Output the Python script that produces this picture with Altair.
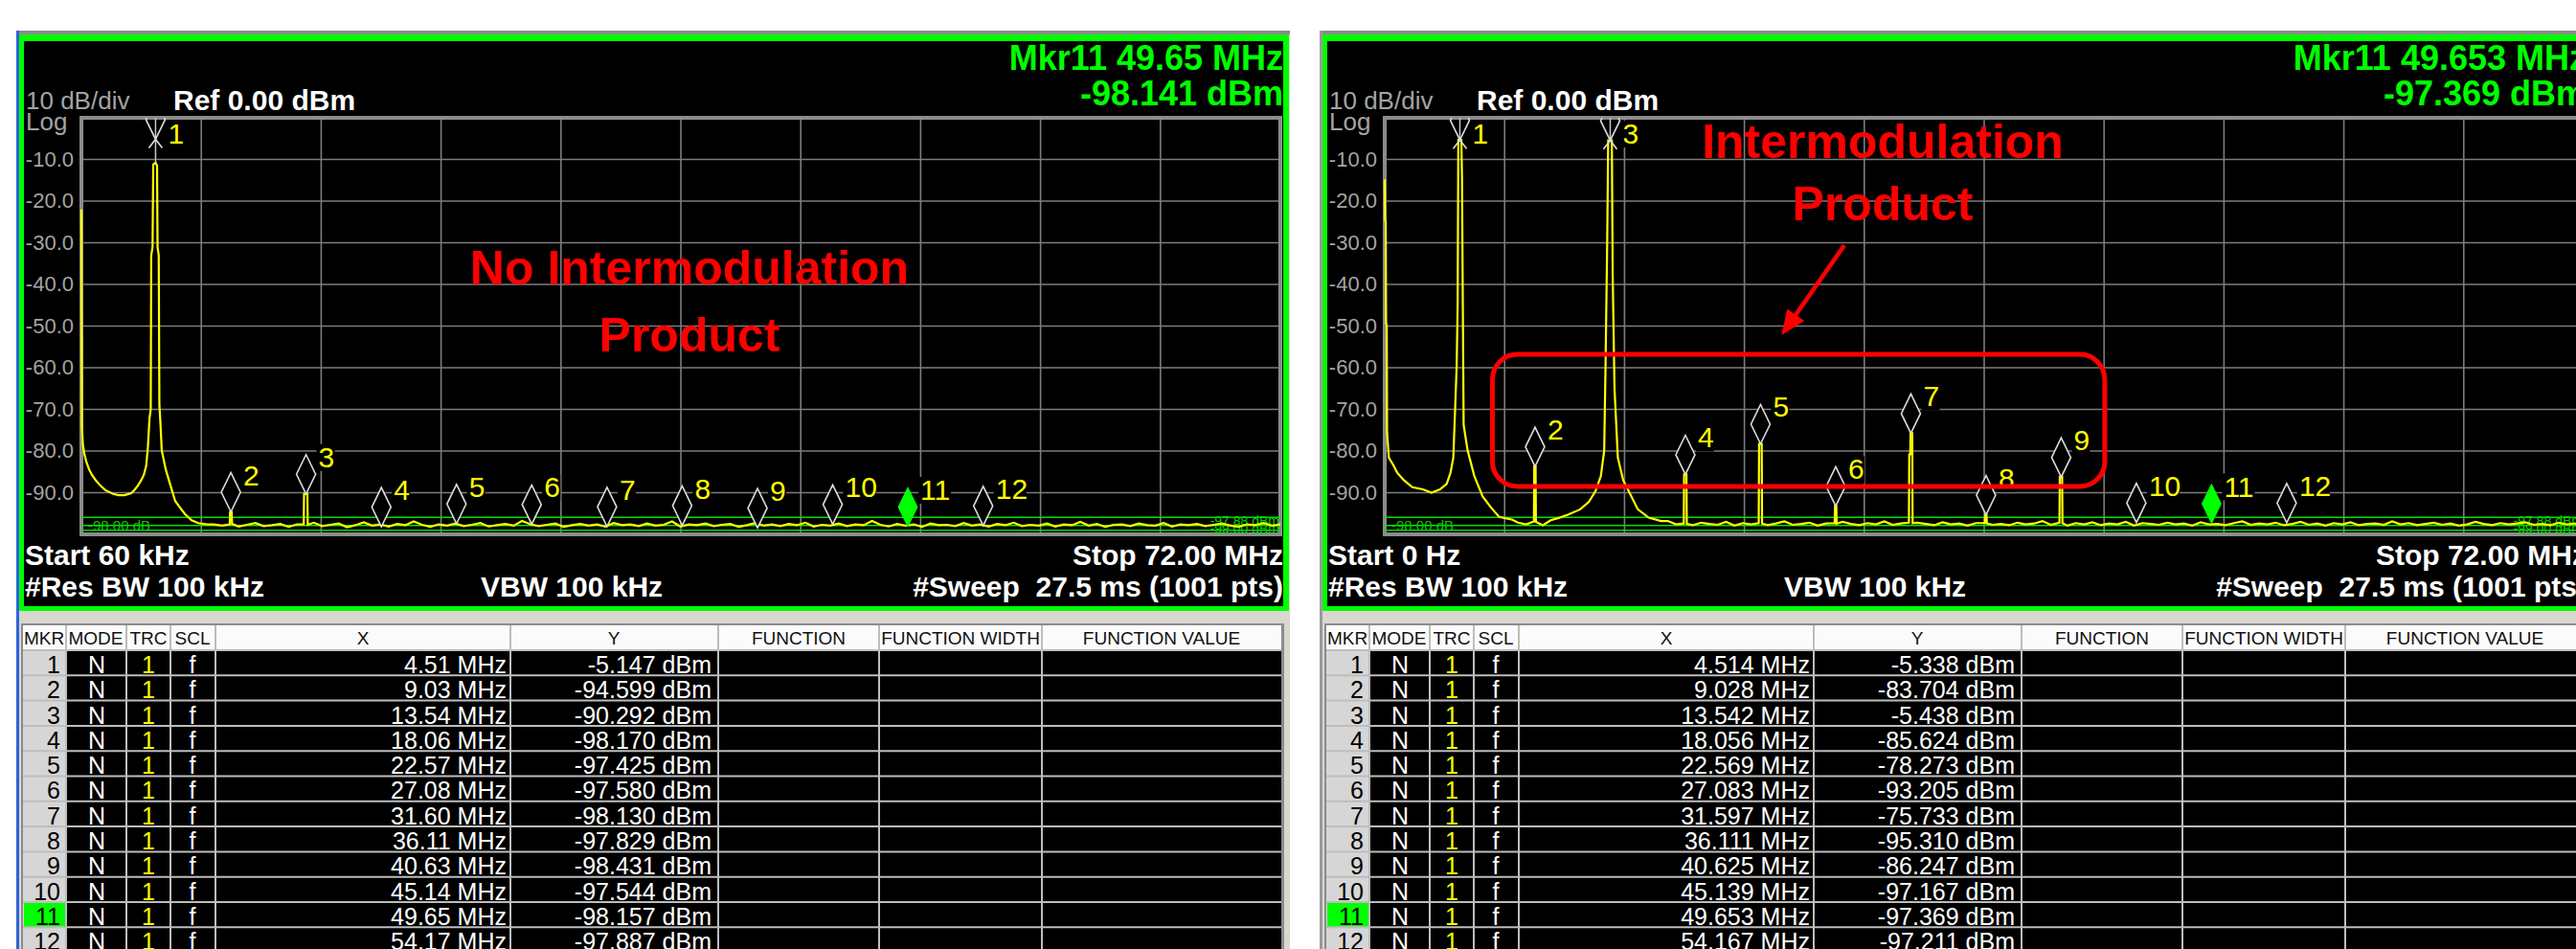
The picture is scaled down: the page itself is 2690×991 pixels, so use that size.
import altair as alt
import pandas as pd

# ---------------------------------------------------------------------------
# Marker table readings (frequency in MHz, level in dBm)
# ---------------------------------------------------------------------------
left_marker_mhz = [4.51, 9.03, 13.54, 18.06, 22.57, 27.08, 31.60, 36.11, 40.63, 45.14, 49.65, 54.17]
left_marker_dbm = [-5.147, -94.599, -90.292, -98.170, -97.425, -97.580, -98.130, -97.829,
                   -98.431, -97.544, -98.157, -97.887]
right_marker_mhz = [4.514, 9.028, 13.542, 18.056, 22.569, 27.083, 31.597, 36.111, 40.625,
                    45.139, 49.653, 54.167]
right_marker_dbm = [-5.338, -83.704, -5.438, -85.624, -78.273, -93.205, -75.733, -95.310,
                    -86.247, -97.167, -97.369, -97.211]
active_marker = 11

left_readout = ["Mkr11 49.65 MHz", "-98.141 dBm"]
right_readout = ["Mkr11 49.653 MHz", "-97.369 dBm"]
left_span_mhz = [0.06, 72.0]
right_span_mhz = [0.0, 72.0]
left_start_label = "Start 60 kHz"
right_start_label = "Start 0 Hz"
display_line_dbm = [-95.9, -97.88, -99.0]

# ---------------------------------------------------------------------------
# Displayed traces
# ---------------------------------------------------------------------------
# single tone at 4.51 MHz with its skirts (left screen)
left_carrier_mhz = [0.06, 0.07, 0.09, 0.15, 0.23, 0.35, 0.52, 0.70, 0.92, 1.20, 1.50, 1.96, 2.30,
                    2.65, 3.05, 3.25, 3.45, 3.65, 3.80, 3.95, 4.05, 4.15, 4.22, 4.25, 4.33, 4.37,
                    4.51, 4.60, 4.63, 4.70, 4.74, 4.80, 4.88, 5.12, 5.40, 5.69, 5.98, 6.27, 6.67,
                    7.07, 7.60]
left_carrier_dbm = [-22.0, -44.0, -74.0, -78.5, -80.5, -82.5, -84.4, -85.8, -87.0, -88.3, -89.4,
                    -90.3, -90.6, -90.6, -90.1, -89.3, -88.3, -87.0, -85.8, -83.5, -79.0, -72.0,
                    -70.0, -33.0, -31.0, -11.2, -10.8, -11.5, -31.0, -33.0, -69.0, -73.0, -79.8,
                    -84.4, -88.2, -92.0, -93.6, -95.1, -96.6, -97.3, -97.6]
left_spur_mhz = [[8.96, 8.98, 9.08, 9.10], [13.40, 13.42, 13.62, 13.64]]
left_spur_dbm = [[-97.6, -94.7, -94.7, -97.5], [-97.6, -90.3, -90.3, -97.7]]

# two tones at 4.514 and 13.542 MHz (right screen)
right_carrier1_mhz = [0.00, 0.02, 0.06, 0.08, 0.12, 0.14, 0.25, 0.52, 0.75, 1.15, 1.66, 2.29, 2.81,
                      3.32, 3.72, 3.95, 4.12, 4.24, 4.32, 4.38, 4.42, 4.60, 4.64, 4.68, 4.74, 4.98,
                      5.38, 5.88, 6.39, 6.87, 7.67]
right_carrier1_dbm = [-14.8, -24.5, -25.0, -49.0, -50.0, -75.5, -81.6, -83.4, -85.2, -87.0, -88.7,
                      -89.2, -90.0, -89.2, -87.9, -85.2, -81.6, -68.5, -59.7, -45.0, -5.3, -5.3,
                      -14.0, -38.6, -73.8, -79.9, -86.0, -90.9, -93.6, -95.8, -96.5]
right_carrier2_mhz = [9.97, 10.5, 11.0, 11.74, 12.26, 12.66, 12.98, 13.18, 13.26, 13.36, 13.42,
                      13.64, 13.69, 13.80, 14.00, 14.32, 14.70, 15.20, 15.85, 16.60]
right_carrier2_dbm = [-96.6, -96.0, -95.3, -94.0, -92.2, -89.6, -86.0, -79.9, -59.7, -30.0, -5.4,
                      -5.4, -37.6, -65.0, -81.6, -87.0, -90.0, -94.0, -96.0, -96.8]
right_spur_mhz = [[8.96, 8.98, 9.06, 9.08], [17.96, 17.98, 18.12, 18.14],
                  [22.46, 22.48, 22.64, 22.66], [27.02, 27.04, 27.12, 27.14],
                  [31.48, 31.50, 31.56, 31.58, 31.68, 31.70], [36.04, 36.06, 36.14, 36.16],
                  [40.52, 40.54, 40.68, 40.70]]
right_spur_dbm = [[-96.9, -83.7, -83.7, -97.0], [-97.4, -85.6, -85.6, -97.5],
                  [-97.3, -78.3, -78.3, -97.4], [-97.3, -93.2, -93.2, -97.4],
                  [-97.2, -80.8, -80.8, -75.7, -75.7, -97.3], [-97.3, -95.3, -95.3, -97.4],
                  [-97.2, -86.2, -86.2, -97.3]]

# noise floor, sampled every 0.5 MHz from 8 MHz up to the stop frequency
noise_start_mhz, noise_step_mhz = 8.0, 0.5
left_noise_dbm = [
    -97.6, -97.9, -97.4, -98.1, -97.7, -97.3, -98.0, -97.8, -97.5, -98.2,
    -97.6, -97.9, -97.2, -98.0, -97.7, -97.4, -98.3, -97.8, -97.1, -97.9,
    -97.6, -98.1, -97.5, -97.8, -96.9, -97.7, -98.2, -97.6, -97.9, -97.4,
    -98.0, -97.7, -97.3, -98.1, -97.8, -97.5, -97.9, -96.8, -97.6, -98.0,
    -97.7, -97.4, -98.2, -97.8, -97.5, -97.9, -97.6, -98.1, -97.3, -97.8,
    -97.6, -98.0, -97.4, -97.9, -97.7, -96.9, -98.1, -97.6, -97.8, -97.4,
    -98.0, -97.7, -97.5, -98.2, -97.8, -97.3, -97.9, -97.6, -98.0, -97.5,
    -97.8, -97.2, -98.1, -97.7, -97.9, -97.4, -98.0, -97.6, -97.8, -96.8,
    -97.7, -98.1, -97.5, -97.9, -97.6, -98.2, -97.4, -97.8, -97.7, -98.0,
    -97.3, -97.9, -97.6, -98.1, -97.5, -97.8, -97.2, -98.0, -97.7, -97.9,
    -97.4, -98.1, -97.6, -97.8, -97.0, -97.9, -97.5, -98.2, -97.7, -97.6,
    -98.0, -97.4, -97.8, -97.9, -97.3, -98.1, -97.6, -97.8, -97.5, -98.0,
    -97.7, -97.4, -97.9, -98.2, -97.6, -97.8, -97.3, -97.9, -97.6]
right_noise_dbm = [
    -97.2, -97.6, -97.0, -97.8, -97.4, -96.9, -97.7, -97.3, -97.5, -97.9,
    -97.1, -97.6, -97.4, -97.8, -97.0, -97.5, -97.9, -97.3, -96.8, -97.6,
    -97.4, -97.8, -97.2, -97.5, -97.7, -97.0, -97.9, -97.3, -97.6, -97.1,
    -97.8, -97.4, -96.9, -97.7, -97.5, -97.2, -97.9, -97.4, -97.6, -97.0,
    -97.5, -97.8, -97.3, -97.6, -96.9, -97.7, -97.4, -97.9, -97.2, -97.5,
    -97.8, -97.1, -97.6, -97.4, -97.9, -97.3, -97.0, -97.7, -97.5, -97.8,
    -97.2, -97.6, -97.4, -96.8, -97.7, -97.5, -97.9, -97.3, -97.6, -97.1,
    -97.8, -97.4, -97.6, -97.0, -97.9, -97.3, -97.5, -97.7, -97.2, -97.6,
    -97.4, -97.9, -97.1, -97.6, -97.5, -97.8, -97.3, -96.9, -97.7, -97.4,
    -97.6, -97.2, -97.8, -97.5, -97.0, -97.7, -97.4, -97.9, -97.3, -97.6,
    -97.1, -97.8, -97.5, -97.4, -97.7, -96.9, -97.6, -97.3, -97.8, -97.5,
    -97.2, -97.7, -97.4, -97.9, -97.6, -97.0, -97.5, -97.8, -97.3, -97.6,
    -97.4, -97.1, -97.7, -97.5, -97.8, -97.2, -97.6, -97.4, -97.7]

# annotation on the two-tone screen (MHz / dBm)
imd_box_mhz = [6.47, 43.24]
imd_box_dbm = [-56.8, -88.5]
imd_arrow_mhz = [27.6, 23.83]
imd_arrow_dbm = [-30.6, -52.2]

# ---------------------------------------------------------------------------
# Screen geometry and styling
# ---------------------------------------------------------------------------
W, H = 2690, 991
PANEL_DX = 1361
PLOT_L, PLOT_R = 85, 1337
PLOT_T, PLOT_B = 123, 558
DB_PX = (PLOT_B - PLOT_T) / 100.0
ROW_TOP, ROW_H = 679, 26.3

SANS = "Liberation Sans, Arial, Helvetica, sans-serif"
NARROW = "Liberation Sans Narrow, Arial Narrow, Liberation Sans, Arial, sans-serif"
GREEN = "#00ff00"
YELLOW = "#ffff00"
RED = "#ff0000"
GRID = "#7c7c7c"
BORDER = "#8c8c8c"
LABEL_GRAY = "#a4a4a4"
DIAMOND = "#dcdcdc"
WIN_BG = "#d9d7cf"
CELL_LINE = "#bdbdbd"

YS = alt.Scale(domain=[-100, 0], range=[PLOT_B, PLOT_T], nice=False, zero=False)
one = pd.DataFrame({"k": [0]})


def rect(x1, y1, x2, y2, color, **kw):
    return alt.Chart(one).mark_rect(color=color, **kw).encode(
        x=alt.value(x1), x2=alt.value(x2), y=alt.value(y1), y2=alt.value(y2))


def vline(x, y1, y2, color, w):
    return alt.Chart(one).mark_rule(color=color, strokeWidth=w).encode(
        x=alt.value(x), y=alt.value(y1), y2=alt.value(y2))


def text(s, x, y, size, color, align="left", weight="normal", font=SANS, baseline="alphabetic"):
    return alt.Chart(one).mark_text(
        text=s, align=align, baseline=baseline, fontSize=size, fontWeight=weight,
        font=font, color=color).encode(x=alt.value(x), y=alt.value(y))


def build_trace(features, noise):
    pts, gaps = [], []
    for fs, vs in features:
        pts += list(zip(fs, vs))
        gaps.append((min(fs) - 0.12, max(fs) + 0.12))
    for i, v in enumerate(noise):
        f = noise_start_mhz + i * noise_step_mhz
        if not any(lo <= f <= hi for lo, hi in gaps):
            pts.append((f, v))
    pts.sort()
    return pd.DataFrame({"f": [p[0] for p in pts], "db": [p[1] for p in pts],
                         "i": list(range(len(pts)))})


def marker_frame(mk_f, mk_db, trace):
    rows = []
    for k, (f, db) in enumerate(zip(mk_f, mk_db), start=1):
        h = -db * DB_PX  # pixels between the marker point and the 0 dBm line
        lab = str(k)
        if h >= 41:
            glyph = "M0,0 L-10,-20.5 L0,-41 L10,-20.5 Z"
            kind = "reg"
        elif h > 20.5:
            wt = 10 * (41 - h) / 20.5
            glyph = (f"M{-wt:.2f},{-h:.2f} L-10,-20.5 L0,0 L10,-20.5 L{wt:.2f},{-h:.2f} "
                     "M-7,9 L0,0 L7,9")
            kind = "top"
        else:
            wt = 10 * h / 20.5
            glyph = f"M{-wt:.2f},{-h:.2f} L0,0 L{wt:.2f},{-h:.2f} M-7,9 L0,0 L7,9"
            kind = "top"
        if k == active_marker:
            kind = "act"
        lab_db = min(db + 28 / DB_PX, -27 / DB_PX)
        box = f"M11,-24 H{15 + 15 * len(lab)} V4 H11 Z"
        near = trace[(trace.f > f - 0.3) & (trace.f < f + 0.3)]
        peak = float(near.db.max()) if len(near) else db
        rows.append(dict(f=f, db=db, lab=lab, lab_db=lab_db, glyph=glyph, kind=kind,
                         box=box, zero=0.0, peak=peak))
    return pd.DataFrame(rows)


def screen_layers(dx, span, start_label, readout, mk_f, mk_db, trace, blue_edge):
    L = []
    xs = alt.Scale(domain=span, range=[PLOT_L + dx, PLOT_R + dx], nice=False, zero=False)

    def X(f):
        return alt.X(f, type="quantitative", scale=xs, axis=None)

    def Y(f):
        return alt.Y(f, type="quantitative", scale=YS, axis=None)

    # window, green bezel and black display
    L.append(rect(17 + dx, 32, 1347 + dx, 991, WIN_BG))
    L.append(rect(17 + dx, 32, 1347 + dx, 36, "#8a8a8a"))
    L.append(rect(17 + dx, 32, 20 + dx, 991, "#2b63d9" if blue_edge else "#9a9a9a"))
    L.append(rect(20 + dx, 36, 1346 + dx, 638, GREEN))
    L.append(rect(25 + dx, 43, 1340 + dx, 633, "#000000"))

    # graticule
    gx = pd.DataFrame({"f": [span[0] + i * (span[1] - span[0]) / 10 for i in range(1, 10)],
                       "t": 0.0, "b": -100.0})
    L.append(alt.Chart(gx).mark_rule(color=GRID, strokeWidth=1.6).encode(
        x=X("f"), y=Y("t"), y2="b"))
    gy = pd.DataFrame({"db": [-10.0 * k for k in range(1, 10)], "a": span[0], "z": span[1]})
    gy["lab"] = [f"{v:.1f}" for v in gy.db]
    L.append(alt.Chart(gy).mark_rule(color=GRID, strokeWidth=1.6).encode(
        x=X("a"), x2="z", y=Y("db")))
    fr = pd.DataFrame({"a": [span[0]], "z": [span[1]], "t": [0.0], "b": [-100.0]})
    L.append(alt.Chart(fr).mark_rect(fillOpacity=0, stroke=BORDER, strokeWidth=4).encode(
        x=X("a"), x2="z", y=Y("t"), y2="b"))
    L.append(alt.Chart(gy).mark_text(align="right", baseline="middle", fontSize=22, font=SANS,
                                     color=LABEL_GRAY).encode(
        x=alt.value(77 + dx), y=Y("db"), text="lab:N"))

    # display lines
    dl = pd.DataFrame({"db": display_line_dbm, "a": span[0], "z": span[1]})
    L.append(alt.Chart(dl).mark_rule(color="#00e000", strokeWidth=1.5).encode(
        x=X("a"), x2="z", y=Y("db")))
    L.append(alt.Chart(pd.DataFrame({"db": [-97.9], "lab": ["-98.00 dB"]})).mark_text(
        align="left", baseline="middle", fontSize=15, font=NARROW, color="#00d000").encode(
        x=alt.value(92 + dx), y=Y("db"), text="lab:N"))
    L.append(alt.Chart(pd.DataFrame({"db": [-96.9, -98.9],
                                     "lab": ["-97.88 dBm", "-99.00 dBm"]})).mark_text(
        align="right", baseline="middle", fontSize=14, font=NARROW, color="#00d000").encode(
        x=alt.value(1336 + dx), y=Y("db"), text="lab:N"))

    # trace
    L.append(alt.Chart(trace).mark_line(color=YELLOW, strokeWidth=2.2).encode(
        x=X("f"), y=Y("db"), order="i:Q"))

    # markers
    mk = marker_frame(mk_f, mk_db, trace)
    top = mk[mk.kind == "top"]
    if len(top):
        L.append(alt.Chart(top).mark_rule(color="#c8c8c8", strokeWidth=1.5).encode(
            x=X("f"), y=Y("zero"), y2="peak"))
    L.append(alt.Chart(mk).mark_point(filled=True, fill="#000000", strokeWidth=0, size=4,
                                      opacity=1).encode(
        x=X("f"), y=Y("lab_db"), shape=alt.Shape("box:N", scale=None)))
    L.append(alt.Chart(mk[mk.kind == "reg"]).mark_point(
        filled=True, fill="#000000", stroke=DIAMOND, strokeWidth=1.6, size=4, opacity=1).encode(
        x=X("f"), y=Y("db"), shape=alt.Shape("glyph:N", scale=None)))
    if len(top):
        L.append(alt.Chart(top).mark_point(
            filled=False, stroke=DIAMOND, strokeWidth=1.6, size=4, opacity=1).encode(
            x=X("f"), y=Y("db"), shape=alt.Shape("glyph:N", scale=None)))
    L.append(alt.Chart(mk[mk.kind == "act"]).mark_point(
        filled=True, fill=GREEN, stroke=GREEN, strokeWidth=1, size=4, opacity=1).encode(
        x=X("f"), y=Y("db"), shape=alt.Shape("glyph:N", scale=None)))
    L.append(alt.Chart(mk).mark_text(align="left", baseline="alphabetic", dx=13, fontSize=30,
                                     font=NARROW, color=YELLOW).encode(
        x=X("f"), y=Y("lab_db"), text="lab:N"))

    # annotation texts of the screen
    L.append(text("10 dB/div", 27 + dx, 114, 26, LABEL_GRAY))
    L.append(text("Log", 27 + dx, 136, 26, LABEL_GRAY))
    L.append(text("Ref 0.00 dBm", 181 + dx, 115, 30, "#ffffff", weight="bold"))
    L.append(text(readout[0], 1340 + dx, 73, 36, GREEN, align="right", weight="bold"))
    L.append(text(readout[1], 1340 + dx, 110, 36, GREEN, align="right", weight="bold"))
    L.append(text(start_label, 26 + dx, 590, 30, "#ffffff", weight="bold"))
    L.append(text("#Res BW 100 kHz", 26 + dx, 623, 30, "#ffffff", weight="bold"))
    L.append(text("VBW 100 kHz", 502 + dx, 623, 30, "#ffffff", weight="bold"))
    L.append(text("Stop 72.00 MHz", 1340 + dx, 590, 30, "#ffffff", align="right", weight="bold"))
    L.append(text("#Sweep\u00a0 27.5 ms (1001 pts)", 1340 + dx, 623, 30, "#ffffff",
                  align="right", weight="bold"))
    return L, xs


def table_layers(dx, mk_f, mk_db, x_fmt):
    L = []
    RS = alt.Scale(domain=[0, 12], range=[ROW_TOP, ROW_TOP + 12 * ROW_H], nice=False, zero=False)
    # header and body backgrounds
    L.append(rect(22 + dx, 651, 1341 + dx, 991, "#8c8c8c"))
    L.append(rect(24 + dx, 653, 1338 + dx, 679, "#fbfbfb"))
    L.append(rect(24 + dx, 679, 69 + dx, 991, "#d6d6d6"))
    L.append(rect(69 + dx, 679, 1338 + dx, 991, "#000000"))
    act = pd.DataFrame({"r0": [active_marker - 1], "r1": [active_marker]})
    L.append(alt.Chart(act).mark_rect(color=GREEN).encode(
        x=alt.value(25 + dx), x2=alt.value(68 + dx),
        y=alt.Y("r0", type="quantitative", scale=RS, axis=None), y2="r1"))
    # cell borders
    seps = pd.DataFrame({"r": list(range(0, 12))})
    L.append(alt.Chart(seps).mark_rule(color=CELL_LINE, strokeWidth=2).encode(
        x=alt.value(24 + dx), x2=alt.value(1338 + dx),
        y=alt.Y("r", type="quantitative", scale=RS, axis=None)))
    for cx in [69, 132, 178, 225, 533, 750, 918, 1088]:
        L.append(vline(cx + dx, 653, 991, CELL_LINE, 2))
    # header captions
    for cap, cx in [("MKR", 46), ("MODE", 100), ("TRC", 155), ("SCL", 201), ("X", 379),
                    ("Y", 641), ("FUNCTION", 834), ("FUNCTION WIDTH", 1003),
                    ("FUNCTION VALUE", 1213)]:
        L.append(text(cap, cx + dx, 673, 19, "#111111", align="center", font=SANS))
    # rows
    rows = pd.DataFrame({
        "row": list(range(1, 13)),
        "mkr": [str(k) for k in range(1, 13)],
        "mode": ["N"] * 12,
        "trc": ["1"] * 12,
        "scl": ["f"] * 12,
        "xs": [x_fmt.format(f) for f in mk_f],
        "ys": [f"{v:.3f} dBm" for v in mk_db],
    })
    for col, cx, align, color in [("mkr", 63, "right", "#000000"), ("mode", 101, "center", "#ffffff"),
                                  ("trc", 155, "center", YELLOW), ("scl", 201, "center", "#ffffff"),
                                  ("xs", 529, "right", "#ffffff"), ("ys", 743, "right", "#ffffff")]:
        L.append(alt.Chart(rows).transform_calculate(yb="datum.row - 0.09").mark_text(
            align=align, baseline="alphabetic", fontSize=25, font=SANS, color=color).encode(
            x=alt.value(cx + dx), y=alt.Y("yb", type="quantitative", scale=RS, axis=None),
            text=f"{col}:N"))
    return L


def px_of(f, db, span, dx):
    x = PLOT_L + dx + (f - span[0]) / (span[1] - span[0]) * (PLOT_R - PLOT_L)
    return x, PLOT_T - db * DB_PX


def data_of(x, y, span, dx):
    f = span[0] + (x - PLOT_L - dx) / (PLOT_R - PLOT_L) * (span[1] - span[0])
    return f, -(y - PLOT_T) / DB_PX


# ---------------------------------------------------------------------------
left_trace = build_trace([(left_carrier_mhz, left_carrier_dbm)] +
                         list(zip(left_spur_mhz, left_spur_dbm)), left_noise_dbm)
right_trace = build_trace([(right_carrier1_mhz, right_carrier1_dbm),
                           (right_carrier2_mhz, right_carrier2_dbm)] +
                          list(zip(right_spur_mhz, right_spur_dbm)), right_noise_dbm)

layers = []
L1, xs_left = screen_layers(0, left_span_mhz, left_start_label, left_readout,
                            left_marker_mhz, left_marker_dbm, left_trace, True)
L2, xs_right = screen_layers(PANEL_DX, right_span_mhz, right_start_label, right_readout,
                             right_marker_mhz, right_marker_dbm, right_trace, False)
layers += L1 + L2
layers += table_layers(0, left_marker_mhz, left_marker_dbm, "{:.2f} MHz")
layers += table_layers(PANEL_DX, right_marker_mhz, right_marker_dbm, "{:.3f} MHz")

# red call-outs
layers.append(text("No Intermodulation", 720, 297, 50, RED, align="center", weight="bold"))
layers.append(text("Product", 720, 367, 50, RED, align="center", weight="bold"))
layers.append(text("Intermodulation", 1966, 165, 50, RED, align="center", weight="bold"))
layers.append(text("Product", 1966, 230, 50, RED, align="center", weight="bold"))

box_df = pd.DataFrame({"a": [imd_box_mhz[0]], "z": [imd_box_mhz[1]],
                       "t": [imd_box_dbm[0]], "b": [imd_box_dbm[1]]})
layers.append(alt.Chart(box_df).mark_rect(fillOpacity=0, stroke=RED, strokeWidth=5,
                                          cornerRadius=26).encode(
    x=alt.X("a", type="quantitative", scale=xs_right, axis=None), x2="z",
    y=alt.Y("t", type="quantitative", scale=YS, axis=None), y2="b"))

# arrow: shaft stops short of the tip, head drawn as a pixel-sized custom symbol
tx, ty = px_of(imd_arrow_mhz[0], imd_arrow_dbm[0], right_span_mhz, PANEL_DX)
hx, hy = px_of(imd_arrow_mhz[1], imd_arrow_dbm[1], right_span_mhz, PANEL_DX)
ln = ((hx - tx) ** 2 + (hy - ty) ** 2) ** 0.5
ux, uy = (hx - tx) / ln, (hy - ty) / ln
nx, ny = -uy, ux
bx, by = -ux * 26, -uy * 26
head_path = (f"M0,0 L{bx + nx * 11:.2f},{by + ny * 11:.2f} "
             f"L{bx - nx * 11:.2f},{by - ny * 11:.2f} Z")
sf, sd = data_of(hx - ux * 18, hy - uy * 18, right_span_mhz, PANEL_DX)
shaft = pd.DataFrame({"a": [imd_arrow_mhz[0]], "z": [sf], "t": [imd_arrow_dbm[0]], "b": [sd]})
layers.append(alt.Chart(shaft).mark_rule(color=RED, strokeWidth=4.5).encode(
    x=alt.X("a", type="quantitative", scale=xs_right, axis=None), x2="z",
    y=alt.Y("t", type="quantitative", scale=YS, axis=None), y2="b"))
head = pd.DataFrame({"f": [imd_arrow_mhz[1]], "db": [imd_arrow_dbm[1]], "s": [head_path]})
layers.append(alt.Chart(head).mark_point(filled=True, fill=RED, strokeWidth=0, size=4,
                                         opacity=1).encode(
    x=alt.X("f", type="quantitative", scale=xs_right, axis=None),
    y=alt.Y("db", type="quantitative", scale=YS, axis=None),
    shape=alt.Shape("s:N", scale=None)))

chart = alt.layer(*layers).resolve_scale(x="independent", y="independent").properties(
    width=W, height=H, padding=0, background="#ffffff",
    autosize=alt.AutoSizeParams(type="none"),
).configure_view(stroke=None)

chart.save("out.html", embed_options={"renderer": "svg", "actions": False})
